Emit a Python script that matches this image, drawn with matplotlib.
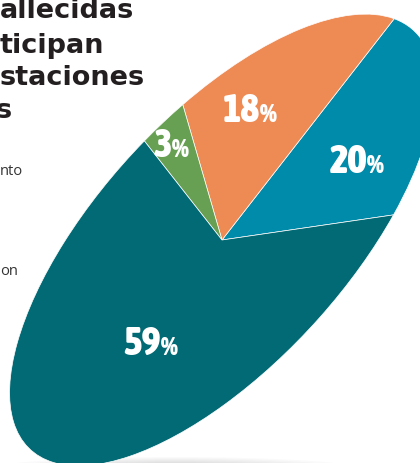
import numpy as np
import matplotlib
matplotlib.use("Agg")
import matplotlib.pyplot as plt
from matplotlib.transforms import Affine2D
from matplotlib.patches import Ellipse
from matplotlib import font_manager as fm

# pie shares (percent), counter-clockwise starting at the right-hand slice
shares = [20, 18, 3, 59]
share_labels = ['20', '18', '3', '59']
colors = ['#008baa', '#ee8b55', '#67a052', '#026a74']

# cropped headline and legend fragments visible at the left edge
title_lines = ['allecidas', 'ticipan', 'staciones', 's']
legend_bits = ['nto', 'on']

# placement of the tilted pie (pixel space, y up)
cx, cy = 222, 223
semi_major, semi_minor, tilt = 284, 124.5, 47.6
start = -61.8
lab_r = [0.718, 0.573, 0.752, 0.514]      # label distance in pie space
lab_shift = [-18, 3.6, 2.2, 18]           # label angle tweak (deg)


def pick_narrow_bold():
    # look for any installed condensed / narrow bold face
    best = None
    for f in fm.fontManager.ttflist:
        w = f.weight
        if isinstance(w, str):
            w = {'bold': 700, 'heavy': 800, 'black': 900, 'semibold': 600,
                 'demibold': 600, 'extra bold': 800}.get(w.lower(), 400)
        narrow = ('condensed' in str(f.stretch).lower() or 'Narrow' in f.name
                  or 'Condensed' in f.name or 'Narrow' in f.fname
                  or 'Condensed' in f.fname)
        if narrow and w >= 600:
            if best is None or w > best[0]:
                best = (w, f.fname)
    return best[1] if best else None


narrow_file = pick_narrow_bold()
if narrow_file:
    num_prop = fm.FontProperties(fname=narrow_file, size=28.5)
    pct_prop = fm.FontProperties(fname=narrow_file, size=19.5)
else:
    num_prop = fm.FontProperties(family='DejaVu Sans', weight='bold', size=22)
    pct_prop = fm.FontProperties(family='DejaVu Sans', weight='bold', size=15)

fig = plt.figure(figsize=(4.2, 4.63), dpi=100)
ax = fig.add_axes([0, 0, 1, 1])

# soft shadow under the disc
for k in range(7):
    ax.add_patch(Ellipse((175, -7), 380 - k * 35, 26 - k * 2,
                         color='black', alpha=0.018, lw=0, zorder=0))

wedges, _ = ax.pie(shares, colors=colors, startangle=start, counterclock=True,
                   wedgeprops=dict(edgecolor='white', linewidth=0.5))

squash = Affine2D().scale(semi_major, semi_minor).rotate_deg(tilt).translate(cx, cy)
for w in wedges:
    w.set_transform(squash + ax.transData)
    w.set_zorder(2)

for w, txt, r, sh in zip(wedges, share_labels, lab_r, lab_shift):
    ang = np.deg2rad((w.theta1 + w.theta2) / 2 + sh)
    x, y = squash.transform((r * np.cos(ang), r * np.sin(ang)))
    ax.text(x, y, txt, ha='right', va='baseline', color='white',
            fontproperties=num_prop, zorder=3)
    ax.text(x, y, '%', ha='left', va='baseline', color='white',
            fontproperties=pct_prop, zorder=3)

# headline (cut off on the left in the source)
title_base = [445, 410, 378, 345]
title_x = [0, 0, 0, -4]
for line, xb, yb in zip(title_lines, title_x, title_base):
    ax.text(xb, yb, line, ha='left', va='baseline', fontsize=19.5,
            fontweight='bold', color='#231f20', family='DejaVu Sans', zorder=4)

for bit, yb in zip(legend_bits, [288, 188]):
    ax.text(0, yb, bit, ha='left', va='baseline', fontsize=10.5,
            color='#333333', family='Open Sans', zorder=4)

ax.set_aspect('auto')
ax.set_xlim(0, 420)
ax.set_ylim(0, 463)
ax.axis('off')

fig.savefig('out.png', dpi=100)
